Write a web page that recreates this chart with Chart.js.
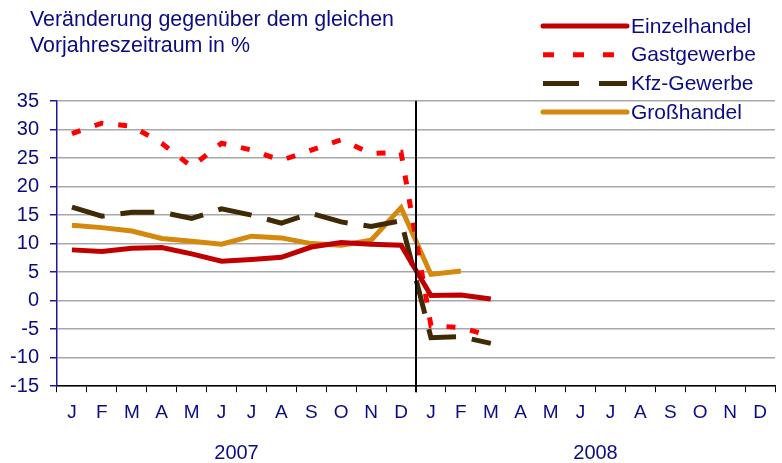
<!DOCTYPE html>
<html lang="de">
<head>
<meta charset="utf-8">
<title>Veränderung gegenüber Vorjahr</title>
<script src="https://cdn.jsdelivr.net/npm/chart.js@4/dist/chart.umd.min.js"></script>
<style>
  html, body { margin: 0; padding: 0; background: #fff; }
  canvas { display: block; }
</style>
</head>
<body>
<canvas id="chart" width="782" height="463"></canvas>
<script>
const months = ['J', 'F', 'M', 'A', 'M', 'J', 'J', 'A', 'S', 'O', 'N', 'D',
  'J', 'F', 'M', 'A', 'M', 'J', 'J', 'A', 'S', 'O', 'N', 'D'];
const years = ['2007', '2008'];
const yTicks = [-15, -10, -5, 0, 5, 10, 15, 20, 25, 30, 35];
const titleLines = ['Veränderung gegenüber dem gleichen', 'Vorjahreszeitraum in %'];

const einzelhandel = [8.9, 8.6, 9.2, 9.3, 8.2, 6.9, 7.2, 7.6, 9.4, 10.2, 9.9, 9.7, 0.9, 1.0, 0.3];
const gastgewerbe = [29.3, 31.1, 30.6, 27.6, 23.5, 27.6, 26.4, 24.6, 26.4, 28.2, 25.8, 26.0, -4.4, -4.7, -6.2];
const kfzGewerbe = [16.4, 14.8, 15.5, 15.5, 14.4, 16.1, 15.0, 13.6, 15.3, 13.8, 13.0, 14.0, -6.5, -6.3, -7.5];
const grosshandel = [13.2, 12.8, 12.2, 10.9, 10.4, 9.9, 11.3, 11.0, 10.0, 9.7, 10.6, 16.3, 4.6, 5.2];

const navy = '#0c0c82';
const font = "'Liberation Sans', Arial, sans-serif";

// legend samples (drawn by hand, Excel style)
const legendDash = [[], [11, 19], [36, 20], []];

const extras = {
  id: 'extras',
  afterDraw(chart) {
    const c = chart.ctx;
    const x = chart.scales.x;
    const area = chart.chartArea;

    // year divider
    const xs = (x.getPixelForValue(11) + x.getPixelForValue(12)) / 2;
    c.save();
    c.strokeStyle = '#000';
    c.lineWidth = 2;
    c.beginPath();
    c.moveTo(xs, area.top);
    c.lineTo(xs, area.bottom + 6);
    c.stroke();

    // title
    c.fillStyle = navy;
    c.font = '21.4px ' + font;
    c.textBaseline = 'middle';
    c.textAlign = 'left';
    titleLines.forEach((t, i) => c.fillText(t, 30, 20 + i * 26));

    // years
    c.textAlign = 'center';
    c.font = '20px ' + font;
    years.forEach((y, i) => {
      const mid = (x.getPixelForValue(i * 12) + x.getPixelForValue(i * 12 + 11)) / 2;
      c.fillText(y, mid, area.bottom + 67);
    });

    // legend
    c.font = '21px ' + font;
    chart.data.datasets.forEach((ds, i) => {
      const ly = 26 + i * 28.7;
      c.strokeStyle = ds.borderColor;
      c.lineWidth = 5;
      c.lineCap = legendDash[i].length ? 'butt' : 'round';
      c.setLineDash(legendDash[i]);
      c.beginPath();
      c.moveTo(543, ly);
      c.lineTo(627, ly);
      c.stroke();
      c.setLineDash([]);
      c.fillStyle = navy;
      c.textAlign = 'left';
      c.fillText(ds.label, 631, ly + 1);
    });
    c.restore();
  }
};

const ctx = document.getElementById('chart');

const chart = new Chart(ctx, {
  type: 'line',
  data: {
    labels: months,
    datasets: [
      {
        label: 'Einzelhandel',
        data: einzelhandel,
        borderColor: '#c00000',
        borderWidth: 5
      },
      {
        label: 'Gastgewerbe',
        data: gastgewerbe,
        borderColor: '#ff0000',
        borderWidth: 5,
        borderDash: [9, 15]
      },
      {
        label: 'Kfz-Gewerbe',
        data: kfzGewerbe,
        borderColor: '#3f2a05',
        borderWidth: 5,
        borderDash: [34, 16]
      },
      {
        label: 'Großhandel',
        data: grosshandel,
        borderColor: '#d4880c',
        borderWidth: 5
      }
    ]
  },
  options: {
    responsive: false,
    animation: false,
    elements: {
      point: { radius: 0 },
      line: { tension: 0, fill: false, borderJoinStyle: 'miter' }
    },
    layout: {
      padding: { top: 101, right: 7, bottom: 30, left: 0 }
    },
    scales: {
      x: {
        offset: true,
        border: { color: '#000', width: 1.5 },
        grid: {
          offset: true,
          drawOnChartArea: false,
          drawTicks: true,
          tickLength: 6,
          tickColor: '#000'
        },
        ticks: {
          color: navy,
          font: { family: font, size: 19 },
          padding: 9,
          maxRotation: 0,
          autoSkip: false
        }
      },
      y: {
        min: -15,
        max: 35,
        afterBuildTicks(scale) {
          scale.ticks = yTicks.map(v => ({ value: v }));
        },
        afterFit(scale) {
          scale.width = 57;
        },
        border: { color: '#1a1aa0', width: 1.5 },
        grid: {
          color: '#a8a8a8',
          lineWidth: 1.5,
          tickLength: 7,
          tickColor: '#1a1aa0'
        },
        ticks: {
          color: navy,
          font: { family: font, size: 20 },
          padding: 11
        }
      }
    },
    plugins: {
      legend: { display: false },
      tooltip: { enabled: false },
      title: { display: false }
    }
  },
  plugins: [extras]
});
</script>
</body>
</html>
